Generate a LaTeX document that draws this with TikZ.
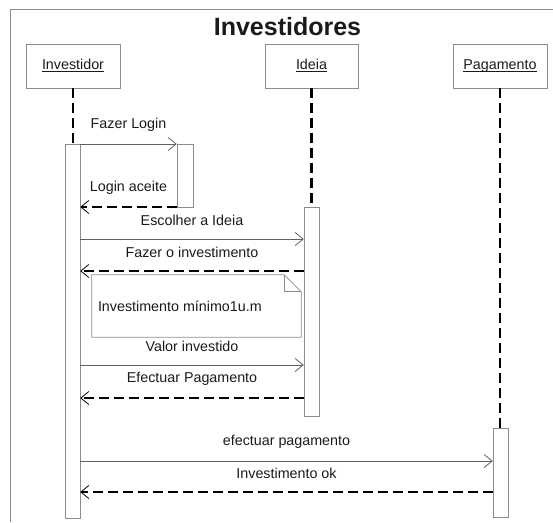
\documentclass[tikz,border=0pt]{standalone}
\usepackage{fontspec}
\setmainfont{Liberation Sans}
\usetikzlibrary{arrows.meta}

\definecolor{boxgray}{HTML}{8C8C8C}
\definecolor{linegray}{HTML}{606060}
\definecolor{ink}{HTML}{1A1A1A}

\newcommand{\objname}[1]{\underline{\vphantom{I}\smash{#1}}}

\tikzset{
  actor/.style={draw=boxgray, minimum width=94pt, minimum height=44pt, inner sep=0pt, text=ink},
  bar/.style={draw=boxgray, fill=white, minimum width=15pt, inner sep=0pt},
  lifeline/.style={line width=2.4pt, dash pattern=on 10pt off 5pt},
  call/.style={draw=linegray, line width=0.8pt, -{Straight Barb[length=8pt,width=13pt]}},
  reply/.style={line width=2.4pt, dash pattern=on 10pt off 5pt,
    -{Straight Barb[length=8pt,width=13pt,line width=0.8pt]}},
  msglabel/.style={midway, yshift=19pt, text=ink},
}

\begin{document}
\begin{tikzpicture}[x=1pt, y=-1pt, font=\fontsize{14.3}{17}\selectfont]
    \useasboundingbox (0,0) rectangle (553,522);

    % frame
    \draw[boxgray, line width=0.8pt] (10,522) -- (10,9) -- (553,9);
    \node[font=\bfseries\fontsize{25}{30}\selectfont, text=ink] (titulo) at (287.5,27) {Investidores};

    % participants
    \node[actor] (investidor) at (73,66) {\objname{Investidor}};
    \node[actor, minimum width=93pt] (ideia) at (311.5,66) {\objname{Ideia}};
    \node[actor] (pagamento) at (500,66) {\objname{Pagamento}};

    % activation bars
    \node[bar, minimum height=374pt] (actinv) at (72.5,331) {};
    \node[bar, minimum width=16pt, minimum height=63pt] (actlogin) at (185,175.5) {};
    \node[bar, minimum height=209pt] (actideia) at (311.5,311.5) {};
    \node[bar, minimum height=89pt] (actpag) at (500.5,472.5) {};

    % lifelines
    \draw[lifeline] (investidor.south) -- (investidor.south |- actinv.north);
    \draw[lifeline] (ideia.south) -- (ideia.south |- actideia.north);
    \draw[lifeline] (pagamento.south) -- (pagamento.south |- actpag.north);

    % messages
    \draw[call] (actinv.east |- 0,144) -- (actlogin.west |- 0,144)
        node[msglabel] {Fazer Login};
    \draw[reply] (actlogin.west |- 0,207) -- (actinv.east |- 0,207)
        node[msglabel] {Login aceite};
    \draw[call] (actinv.east |- 0,239) -- (actideia.west |- 0,239)
        node[msglabel] {Escolher a Ideia};
    \draw[reply] (actideia.west |- 0,271) -- (actinv.east |- 0,271)
        node[msglabel] {Fazer o investimento};
    \draw[call] (actinv.east |- 0,365) -- (actideia.west |- 0,365)
        node[msglabel] {Valor investido};
    \draw[reply] (actideia.west |- 0,398) -- (actinv.east |- 0,398)
        node[msglabel] {Efectuar Pagamento};
    \draw[call] (actinv.east |- 0,461) -- (actpag.west |- 0,461)
        node[msglabel] {efectuar pagamento};
    \draw[reply] (actpag.west |- 0,492) -- (actinv.east |- 0,492)
        node[msglabel] {Investimento ok};

    % note
    \node[minimum width=209pt, minimum height=62pt, inner sep=0pt] (nota) at (196.5,306) {};
    \node[anchor=west, text=ink, inner sep=0pt] (notatexto) at ([xshift=6pt]nota.west) {Investimento mínimo1u.m};
    \draw[boxgray, line width=0.8pt] (nota.north west) -- ([xshift=-17pt]nota.north east)
        -- ([yshift=-17pt]nota.north east) -- (nota.south east) -- (nota.south west) -- cycle;
    \draw[boxgray, line width=0.8pt] ([xshift=-17pt]nota.north east) -- ([xshift=-17pt,yshift=-17pt]nota.north east)
        -- ([yshift=-17pt]nota.north east);
\end{tikzpicture}
\end{document}
